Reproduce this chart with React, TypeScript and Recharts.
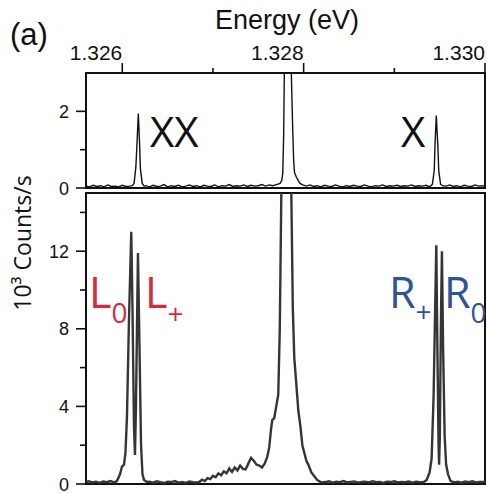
import React from 'react';
import { LineChart, Line, XAxis, YAxis, ReferenceArea } from 'recharts';

// Photon energy axis (eV)
const energyMin = 1.3256;
const energyMax = 1.33;
const energyTicks = [1.326, 1.327, 1.328, 1.329, 1.33];
const energyLabelTicks = [1.326, 1.328, 1.33];

// Count-rate axes (10^3 counts/s)
const topMax = 3;
const topTicks = [0, 1, 2];
const topLabelTicks = [0, 2];
const bottomMax = 15;
const bottomTicks = [0, 2, 4, 6, 8, 10, 12, 14];
const bottomLabelTicks = [0, 4, 8, 12];

// Upper spectrum: [energy eV, counts 10^3/s]
const upperSpectrum: [number, number][] = [
  [1.3256, 0.05], [1.32564, 0.03], [1.32568, 0.07], [1.32572, 0.04], [1.32576, 0.06],
  [1.3258, 0.03], [1.32584, 0.08], [1.32588, 0.04], [1.32592, 0.05], [1.32596, 0.03],
  [1.326, 0.07], [1.32604, 0.04], [1.32608, 0.05],
  // XX line
  [1.32611, 0.06], [1.32613, 0.12], [1.32615, 0.55], [1.326165, 1.3], [1.326177, 1.94],
  [1.32619, 1.2], [1.3262, 0.5], [1.32622, 0.12], [1.32624, 0.05],
  [1.32626, 0.06], [1.3263, 0.03], [1.32634, 0.07], [1.32638, 0.04], [1.32642, 0.05],
  [1.32646, 0.09], [1.3265, 0.03], [1.32654, 0.06], [1.32658, 0.04], [1.32662, 0.07],
  [1.32666, 0.03], [1.3267, 0.05], [1.32674, 0.08], [1.32678, 0.04], [1.32682, 0.06],
  [1.32686, 0.03], [1.3269, 0.07], [1.32694, 0.05], [1.32698, 0.04], [1.32702, 0.08],
  [1.32706, 0.03], [1.3271, 0.06], [1.32714, 0.05], [1.32718, 0.09], [1.32722, 0.04],
  [1.32726, 0.06], [1.3273, 0.05], [1.32734, 0.08], [1.32738, 0.04], [1.32742, 0.07],
  [1.32746, 0.05], [1.3275, 0.06], [1.32754, 0.09], [1.32758, 0.05], [1.32762, 0.08],
  [1.32766, 0.06], [1.3277, 0.09],
  // central line (off scale)
  [1.32774, 0.12], [1.32776, 0.2], [1.32777, 0.4], [1.32778, 1.4], [1.327787, 3.0],
  [1.3278, 4.5], [1.32783, 5.5], [1.32785, 4.5], [1.327864, 3.0], [1.32788, 1.5],
  [1.32789, 0.7], [1.3279, 0.4], [1.32792, 0.28], [1.32794, 0.2], [1.32796, 0.12],
  [1.32799, 0.08],
  [1.32803, 0.05], [1.32807, 0.08], [1.32811, 0.04], [1.32815, 0.06], [1.32819, 0.03],
  [1.32823, 0.07], [1.32827, 0.05], [1.32831, 0.04], [1.32835, 0.08], [1.32839, 0.05],
  [1.32843, 0.03], [1.32847, 0.06], [1.32851, 0.04], [1.32855, 0.07], [1.32859, 0.05],
  [1.32863, 0.04], [1.32867, 0.08], [1.32871, 0.05], [1.32875, 0.03], [1.32879, 0.06],
  [1.32883, 0.05], [1.32887, 0.08], [1.32891, 0.04], [1.32895, 0.06], [1.32899, 0.05],
  [1.32903, 0.07], [1.32907, 0.04], [1.32911, 0.06], [1.32915, 0.05], [1.32919, 0.08],
  [1.32923, 0.04], [1.32927, 0.06], [1.32931, 0.05], [1.32935, 0.07], [1.32938, 0.04],
  // X line
  [1.3294, 0.05], [1.32942, 0.1], [1.32944, 0.45], [1.32945, 1.2], [1.329463, 1.89],
  [1.32948, 1.1], [1.32949, 0.45], [1.32951, 0.1], [1.32953, 0.06],
  [1.32957, 0.05], [1.32961, 0.08], [1.32965, 0.04], [1.32969, 0.06], [1.32973, 0.03],
  [1.32977, 0.07], [1.32981, 0.05], [1.32985, 0.04], [1.32989, 0.08], [1.32993, 0.05],
  [1.32997, 0.06], [1.33, 0.04],
];

// Lower spectrum: [energy eV, counts 10^3/s]
const lowerSpectrum: [number, number][] = [
  [1.3256, 0.1], [1.32563, 0.14], [1.32567, 0.08], [1.32571, 0.12], [1.32575, 0.06],
  [1.32579, 0.13], [1.32583, 0.09], [1.32587, 0.15],
  // L0 / L+ doublet
  [1.325908, 0.08], [1.325941, 0.15], [1.325975, 0.5], [1.325997, 0.9], [1.326019, 1.0],
  [1.326035, 1.6], [1.326052, 3.5], [1.326074, 8.5], [1.326099, 13.0], [1.326113, 9],
  [1.326129, 3], [1.32614, 1.5], [1.326151, 4], [1.326173, 11.9], [1.32619, 7],
  [1.326207, 2], [1.326223, 0.5], [1.32624, 0.2], [1.326273, 0.1],
  [1.3263, 0.12], [1.32634, 0.07], [1.32638, 0.14], [1.32642, 0.09], [1.32646, 0.05],
  [1.3265, 0.12], [1.32654, 0.1], [1.32658, 0.15], [1.32662, 0.07], [1.32666, 0.11],
  [1.3267, 0.06], [1.32674, 0.13], [1.32678, 0.09], [1.32682, 0.08],
  // low-energy wing of the central line
  [1.326848, 0.1], [1.32688, 0.22], [1.32691, 0.15], [1.32694, 0.3], [1.32697, 0.25],
  [1.327, 0.42], [1.32703, 0.35], [1.32706, 0.55], [1.32709, 0.45], [1.32712, 0.65],
  [1.32715, 0.55], [1.32718, 0.8], [1.32721, 0.62], [1.32724, 0.85], [1.32727, 0.7],
  [1.3273, 0.95], [1.32733, 0.78], [1.32736, 0.75], [1.32739, 1.05], [1.32742, 1.35],
  [1.32745, 1.2], [1.32748, 1.0], [1.32751, 0.95], [1.32754, 0.85], [1.32757, 1.05],
  [1.327599, 1.4], [1.327621, 1.9], [1.32764, 2.8], [1.327654, 3.3], [1.327676, 3.4],
  [1.327698, 4.0], [1.32772, 4.6], [1.327737, 8], [1.327754, 15], [1.327776, 23],
  [1.327809, 30], [1.327842, 23], [1.327864, 15], [1.327881, 9], [1.327897, 6.5],
  [1.327925, 4.8], [1.327941, 3.8], [1.327964, 3.0], [1.327986, 2.0], [1.328008, 1.6],
  [1.32803, 1.2], [1.328052, 1.0], [1.328085, 0.6], [1.328118, 0.4], [1.328151, 0.2],
  [1.328196, 0.08],
  [1.32824, 0.1], [1.32828, 0.14], [1.32832, 0.07], [1.32836, 0.12], [1.3284, 0.09],
  [1.32844, 0.15], [1.32848, 0.08], [1.32852, 0.11], [1.32856, 0.13], [1.3286, 0.07],
  [1.32864, 0.1], [1.32868, 0.12], [1.32872, 0.08], [1.32876, 0.14], [1.3288, 0.09],
  [1.32884, 0.11], [1.32888, 0.06], [1.32892, 0.12], [1.32896, 0.1], [1.329, 0.14],
  [1.32904, 0.08], [1.32908, 0.11], [1.32912, 0.09], [1.32916, 0.13], [1.3292, 0.07],
  [1.32924, 0.12], [1.32928, 0.09],
  // R+ / R0 doublet
  [1.329323, 0.1], [1.329356, 0.2], [1.329389, 0.6], [1.329411, 1.3], [1.329433, 4.5],
  [1.32945, 9], [1.329463, 12.3], [1.329475, 7], [1.329488, 2], [1.329494, 1.0],
  [1.329502, 2.5], [1.329513, 8], [1.329525, 12.0], [1.329538, 7], [1.329555, 2.5],
  [1.329571, 1.0], [1.329593, 0.5], [1.329621, 0.15], [1.329665, 0.08],
  [1.3297, 0.12], [1.32974, 0.07], [1.32978, 0.13], [1.32982, 0.09], [1.32986, 0.14],
  [1.3299, 0.08], [1.32994, 0.11], [1.32998, 0.1], [1.33, 0.12],
];

const toRows = (s: [number, number][]) => s.map(([energy, counts]) => ({ energy, counts }));
const upperRows = toRows(upperSpectrum);
const lowerRows = toRows(lowerSpectrum);

const SANS = '"Liberation Sans", Arial, sans-serif';
const HUMANIST = '"Open Sans", "Noto Sans", sans-serif';
const RED = '#d42a3a';
const BLUE = '#2d5399';

const Y_TICK = 10;
const Y_GAP = 7;
const X_TICK = 10;
const X_GAP = 2;

function makeCountTick(labelled: number[]) {
  return (props: any) => {
    const { x, y, payload } = props;
    const v = payload.value;
    const major = labelled.includes(v);
    const axisX = x + Y_TICK + Y_GAP;
    const len = major ? 10 : 6;
    return (
      <g>
        <line x1={axisX - len} x2={axisX} y1={y} y2={y} stroke="#111" strokeWidth={1.6} />
        {major && (
          <text x={x} y={y + 6.5} textAnchor="end" fontSize={18} fontFamily={SANS} fill="#111">
            {v}
          </text>
        )}
      </g>
    );
  };
}

function EnergyTick(props: any) {
  const { x, y, payload } = props;
  const v = payload.value;
  const major = energyLabelTicks.some((t) => Math.abs(t - v) < 1e-9);
  const axisY = y + X_TICK + X_GAP;
  const len = major ? 10 : 5;
  return (
    <g>
      <line x1={x} x2={x} y1={axisY - len} y2={axisY} stroke="#111" strokeWidth={1.6} />
      {major && (
        <text x={x} y={y - 1} textAnchor="end" fontSize={21} fontFamily={SANS} fill="#111">
          {v.toFixed(3)}
        </text>
      )}
    </g>
  );
}

const W = 487;

export default function App() {
  return (
    <div style={{ position: 'absolute', left: 0, top: 0, width: W, height: 494, background: '#fff' }}>
      <div style={{ position: 'absolute', left: 0, top: 190 }}>
        <LineChart width={W} height={304} data={lowerRows} margin={{ top: 3, right: 2, bottom: 10, left: 0 }}>
          <XAxis dataKey="energy" type="number" domain={[energyMin, energyMax]} allowDataOverflow hide />
          <YAxis
            type="number"
            domain={[0, bottomMax]}
            allowDataOverflow
            ticks={bottomTicks}
            interval={0}
            width={86}
            tickSize={Y_TICK}
            tickMargin={Y_GAP}
            tickLine={false}
            axisLine={false}
            tick={makeCountTick(bottomLabelTicks)}
          />
          <Line
            dataKey="counts"
            type="linear"
            dot={false}
            stroke="#353535"
            strokeWidth={2.4}
            isAnimationActive={false}
          />
          <ReferenceArea
            x1={energyMin}
            x2={energyMax}
            y1={0}
            y2={bottomMax}
            fill="none"
            fillOpacity={0}
            stroke="#111"
            strokeWidth={2}
          />
        </LineChart>
      </div>
      <div style={{ position: 'absolute', left: 0, top: 0 }}>
        <LineChart width={W} height={200} data={upperRows} margin={{ top: 0, right: 2, bottom: 12, left: 0 }}>
          <XAxis
            dataKey="energy"
            type="number"
            orientation="top"
            domain={[energyMin, energyMax]}
            allowDataOverflow
            ticks={energyTicks}
            interval={0}
            height={73}
            tickSize={X_TICK}
            tickMargin={X_GAP}
            tickLine={false}
            axisLine={{ stroke: '#111', strokeWidth: 2 }}
            tick={EnergyTick}
          />
          <YAxis
            type="number"
            domain={[0, topMax]}
            allowDataOverflow
            ticks={topTicks}
            interval={0}
            width={86}
            tickSize={Y_TICK}
            tickMargin={Y_GAP}
            tickLine={false}
            axisLine={false}
            tick={makeCountTick(topLabelTicks)}
          />
          <Line
            dataKey="counts"
            type="linear"
            dot={false}
            stroke="#111"
            strokeWidth={1.4}
            isAnimationActive={false}
          />
          <ReferenceArea
            x1={energyMin}
            x2={energyMax}
            y1={0}
            y2={topMax}
            fill="none"
            fillOpacity={0}
            stroke="#111"
            strokeWidth={2}
          />
        </LineChart>
      </div>
      <svg
        width={W}
        height={494}
        style={{ position: 'absolute', left: 0, top: 0, pointerEvents: 'none' }}
      >
        <text x={10} y={45} fontSize={31} fontFamily={SANS} fill="#111">(a)</text>
        <text x={287} y={29} textAnchor="middle" fontSize={27} fontFamily={SANS} fill="#111">
          Energy (eV)
        </text>
        <text
          transform="translate(31,243) rotate(-90)"
          textAnchor="middle"
          fontSize={23}
          fontFamily={HUMANIST}
          fill="#111"
        >
          10³ Counts/s
        </text>
        <text x={150} y={147} fontSize={42} fontFamily={HUMANIST} fill="#111">XX</text>
        <text x={401} y={147} fontSize={42} fontFamily={HUMANIST} fill="#111">X</text>
        <text x={89} y={308} fontSize={43} fontFamily={HUMANIST} fill={RED}>
          L<tspan dy={15} fontSize={28}>0</tspan>
        </text>
        <text x={145} y={308} fontSize={43} fontFamily={HUMANIST} fill={RED}>
          L<tspan dy={16} fontSize={28}>+</tspan>
        </text>
        <text x={389} y={308} fontSize={43} fontFamily={HUMANIST} fill={BLUE}>
          R<tspan dy={14} fontSize={28}>+</tspan>
        </text>
        <text x={444} y={308} fontSize={43} fontFamily={HUMANIST} fill={BLUE}>
          R<tspan dy={15} fontSize={28}>0</tspan>
        </text>
      </svg>
    </div>
  );
}
